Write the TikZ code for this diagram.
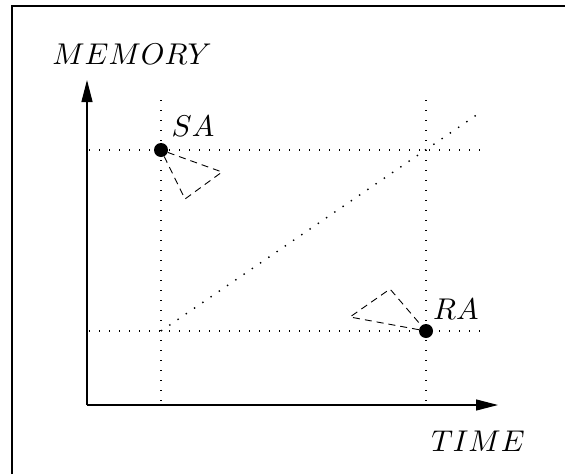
\documentclass[tikz,border=0pt]{standalone}
\usetikzlibrary{arrows.meta}
\newcommand\axislabel[1]{\scalebox{3.0}{$#1$}}
\begin{document}
\begin{tikzpicture}[x=1pt,y=-1pt,
  axis/.style={line width=1.2pt,-{Triangle[length=22pt,width=11pt]}},
  guide/.style={line width=1.4pt,dash pattern=on 1.4pt off 8.6pt},
  wedge/.style={line width=0.9pt,dash pattern=on 7pt off 5pt},
  point/.style={circle,fill=black,inner sep=0pt,minimum size=14pt},
  lbl/.style={inner sep=0pt}]
\useasboundingbox (0,0) rectangle (565,474);
% frame edges
\draw[line width=1.2pt] (12,474) -- (12,6) -- (565,6);

% origin and axis ends
\coordinate (O) at (87,405);
\coordinate (ytip) at (87,80);
\coordinate (xtip) at (498,405);
\draw[axis] (O) -- (ytip);
\draw[axis] (O) -- (xtip);
\node[lbl] (mem) at (132,54) {\axislabel{MEMORY}};
\node[lbl] (time) at (478,441) {\axislabel{TIME}};

% guide lines
\coordinate (v1t) at (161,100);
\coordinate (v1b) at (161,405);
\coordinate (v2t) at (426,100);
\coordinate (v2b) at (426,405);
\coordinate (h1l) at (89,150);
\coordinate (h1r) at (484,150);
\coordinate (h2l) at (89,331);
\coordinate (h2r) at (484,331);
\coordinate (d0) at (161,331);
\coordinate (d1) at (478,114);
\draw[guide] (v1t) -- (v1b);
\draw[guide] (v2t) -- (v2b);
\draw[guide] (h1l) -- (h1r);
\draw[guide] (h2l) -- (h2r);
\draw[guide] (d0) -- (d1);

% the two points
\node[point] (sa) at (161,150) {};
\node[point] (ra) at (426,331) {};
\node[lbl] (salbl) at (193,126) {\axislabel{SA}};
\node[lbl] (ralbl) at (456,309) {\axislabel{RA}};

% dashed wedges
\coordinate (sa1) at (222,172);
\coordinate (sa2) at (185,199);
\draw[wedge] (sa) -- (sa1) -- (sa2) -- (sa);
\coordinate (ra1) at (350,317);
\coordinate (ra2) at (390,289);
\draw[wedge] (ra) -- (ra1) -- (ra2) -- (ra);
\end{tikzpicture}
\end{document}
